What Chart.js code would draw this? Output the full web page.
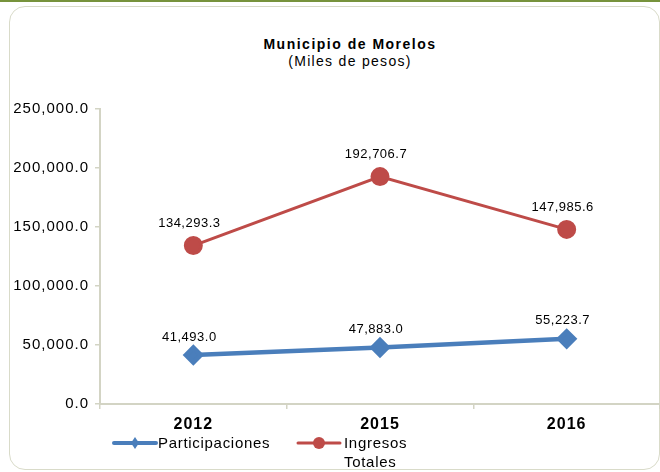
<!DOCTYPE html>
<html>
<head>
<meta charset="utf-8">
<script src="https://cdn.jsdelivr.net/npm/chart.js@4"></script>
<style>
  body { margin: 0; width: 660px; height: 472px; overflow: hidden; background: #fff; font-family: "Liberation Sans", Arial, sans-serif; }
  #wrap { position: relative; width: 660px; height: 472px; }
  #topbar { position: absolute; left: 0; top: 0; width: 660px; height: 2px; background: #77933c; }
  #frame { position: absolute; left: 9px; top: 6px; width: 649px; height: 462px; border: 1.5px solid #d9dbc9; border-radius: 16px; }
  #title { position: absolute; left: 0; width: 700px; top: 36px; text-align: center; font-weight: bold; font-size: 14px; letter-spacing: 1.5px; color: #000; }
  #subtitle { position: absolute; left: 0; width: 700px; top: 53px; text-align: center; font-size: 14px; letter-spacing: 1.3px; color: #000; }
  canvas { position: absolute; left: 0; top: 0; }
  .leg { position: absolute; font-size: 15px; letter-spacing: 0.7px; color: #000; line-height: 19px; }
  .sw { position: absolute; }
</style>
</head>
<body>
<div id="wrap">
  <div id="topbar"></div>
  <div id="frame"></div>
  <div id="title">Municipio de Morelos</div>
  <div id="subtitle">(Miles de pesos)</div>
  <canvas id="morelosChart" width="660" height="472"></canvas>
  <svg class="sw" style="left:112px;top:436px" width="46" height="14">
    <line x1="2" y1="7" x2="44" y2="7" stroke="#4a7ebb" stroke-width="4" stroke-linecap="round"/>
    <polygon points="23,1 27,7 23,13 19,7" fill="#4a7ebb"/>
  </svg>
  <div class="leg" style="left:158px;top:433px">Participaciones</div>
  <svg class="sw" style="left:296px;top:435px" width="46" height="16">
    <line x1="2" y1="8" x2="44" y2="8" stroke="#be4b48" stroke-width="3" stroke-linecap="round"/>
    <circle cx="23" cy="8" r="6" fill="#be4b48"/>
  </svg>
  <div class="leg" style="left:344px;top:433px">Ingresos<br>Totales</div>
</div>
<script>
const years = ["2012", "2015", "2016"];
const participaciones = [41493.0, 47883.0, 55223.7];
const ingresosTotales = [134293.3, 192706.7, 147985.6];
const yTicks = [0, 50000, 100000, 150000, 200000, 250000];

const fmt = v => v.toLocaleString("en-US", { minimumFractionDigits: 1, maximumFractionDigits: 1 });

// the reference text is drawn a little wide, so space the letters out
const spacing = {
    id: "spacing",
    beforeUpdate(chart) { chart.ctx.letterSpacing = "1px"; },
    beforeDraw(chart) { chart.ctx.letterSpacing = "1px"; },
};

const valueLabels = {
    id: "valueLabels",
    afterDatasetsDraw(chart) {
        const ctx = chart.ctx;
        ctx.save();
        ctx.letterSpacing = "0.5px";
        ctx.font = "13px 'Liberation Sans', Arial, sans-serif";
        ctx.fillStyle = "#000";
        ctx.textAlign = "center";
        ctx.textBaseline = "middle";
        chart.data.datasets.forEach((ds, i) => {
            chart.getDatasetMeta(i).data.forEach((pt, j) => {
                ctx.fillText(fmt(ds.data[j]), pt.x - 4, pt.y - ds.labelGap);
            });
        });
        ctx.restore();
    }
};

const morelosData = {
    labels: years,
    datasets: [
        {
            label: "Participaciones",
            data: participaciones,
            borderColor: "#4a7ebb",
            backgroundColor: "#4a7ebb",
            borderWidth: 4.5,
            pointStyle: "rectRot",
            pointRadius: 7.5,
            pointHoverRadius: 7.5,
            labelGap: 18,
        },
        {
            label: "Ingresos Totales",
            data: ingresosTotales,
            borderColor: "#be4b48",
            backgroundColor: "#be4b48",
            borderWidth: 3,
            pointStyle: "circle",
            pointRadius: 8,
            pointHoverRadius: 8,
            labelGap: 22,
        },
    ],
};

const morelosConfig = {
    type: "line",
    data: morelosData,
    options: {
        responsive: false,
        animation: false,
        layout: { autoPadding: false, padding: { top: 109, right: 0, left: 0, bottom: 0 } },
        plugins: {
            legend: { display: false },
            title: { display: false },
            tooltip: { enabled: false },
        },
        scales: {
            x: {
                offset: true,
                grid: {
                    offset: true,
                    drawOnChartArea: false,
                    color: "#d3d4c4",
                    tickLength: 5,
                    lineWidth: 1.5,
                },
                border: { color: "#d3d4c4", width: 2 },
                ticks: {
                    color: "#000",
                    padding: 6,
                    font: { family: "'Liberation Sans', Arial, sans-serif", size: 16, weight: "bold" },
                },
                afterFit: s => { s.height = 68; },
            },
            y: {
                min: 0,
                max: 250000,
                afterBuildTicks: s => { s.ticks = yTicks.map(v => ({ value: v })); },
                grid: {
                    drawOnChartArea: false,
                    color: "#d3d4c4",
                    tickLength: 5,
                    lineWidth: 1.5,
                },
                border: { color: "#d3d4c4", width: 2 },
                ticks: {
                    color: "#000",
                    padding: 6,
                    font: { family: "'Liberation Sans', Arial, sans-serif", size: 15 },
                    callback: v => fmt(v),
                },
                afterFit: s => { s.width = 100; },
            },
        },
    },
    plugins: [spacing, valueLabels],
};

const morelosChart = new Chart(document.getElementById("morelosChart"), morelosConfig);
</script>
</body>
</html>
